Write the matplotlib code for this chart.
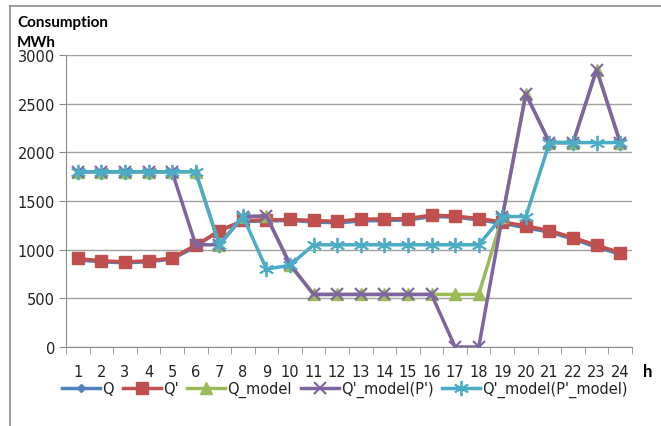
import matplotlib
matplotlib.use("Agg")
import matplotlib.pyplot as plt
from matplotlib.lines import Line2D

hours = list(range(1, 25))
Q = [895, 875, 865, 875, 905, 1030, 1200, 1290, 1295, 1300, 1285, 1275, 1295, 1300, 1305, 1340, 1335, 1305, 1270, 1225, 1180, 1110, 1025, 955]
Q_prime = [910, 885, 875, 885, 915, 1045, 1190, 1300, 1305, 1310, 1300, 1290, 1315, 1315, 1320, 1355, 1345, 1320, 1285, 1245, 1195, 1125, 1045, 970]
Q_model = [1800, 1800, 1800, 1800, 1800, 1800, 1050, 1340, 1345, 840, 540, 540, 540, 540, 540, 540, 540, 540, 1335, 2600, 2100, 2100, 2850, 2100]
Q_model_P = [1800, 1800, 1800, 1800, 1800, 1050, 1050, 1340, 1345, 850, 540, 540, 540, 540, 540, 540, 0, 0, 1335, 2600, 2100, 2100, 2850, 2100]
Q_model_Pm = [1800, 1800, 1800, 1800, 1800, 1800, 1050, 1345, 800, 840, 1050, 1050, 1050, 1050, 1050, 1050, 1050, 1050, 1340, 1340, 2100, 2100, 2100, 2100]
labels = ["Q", "Q'", "Q_model", "Q'_model(P')", "Q'_model(P'_model)"]
yticks = [0, 500, 1000, 1500, 2000, 2500, 3000]

plt.rcParams['font.family'] = ['DejaVu Sans']

fig = plt.figure(figsize=(6.61, 4.27), dpi=100)
ax = fig.add_axes([66/661, 1-348/427, (632-66)/661, (348-56)/427])

# outer frame (top and left edges only visible)
x0, y0 = 10/661, 1-7/427
fig.lines.append(Line2D([x0, 1.0], [y0, y0], transform=fig.transFigure, color='#8c8c8c', lw=1.2))
fig.lines.append(Line2D([x0, x0], [0.0, y0], transform=fig.transFigure, color='#8c8c8c', lw=1.2))

blue, red, green, purple, cyan = '#4F81BD', '#C0504D', '#9BBB59', '#8064A2', '#4BACC6'
lw = 2.5
ax.plot(hours, Q, color=blue, lw=lw, marker='D', ms=4, zorder=3)
ax.plot(hours, Q_prime, color=red, lw=lw, marker='s', ms=9, zorder=4)
ax.plot(hours, Q_model, color=green, lw=lw, marker='^', ms=9, zorder=5)
ax.plot(hours, Q_model_P, color=purple, lw=lw, marker='x', ms=9, mew=1.5, zorder=6)
ax.plot(hours, Q_model_Pm, color=cyan, lw=lw, marker=(6, 2, 0), ms=11, mew=1.3, zorder=7)

ax.set_xlim(0.5, 24.5)
ax.set_ylim(0, 3000)
ax.set_yticks(yticks)
ax.set_yticklabels([str(v) for v in yticks], fontsize=10.5, color='#222222')
ax.set_xticks(hours)
ax.set_xticklabels([str(h) for h in hours], fontsize=10.5, color='#222222')
ax.set_xticks([h - 0.5 for h in hours] + [24.5], minor=True)
ax.tick_params(axis='x', which='major', length=0, pad=12)
ax.tick_params(axis='x', which='minor', length=5, color='#8c8c8c')
ax.tick_params(axis='y', length=5, color='#8c8c8c', pad=3)
ax.grid(axis='y', color='#a0a0a0', lw=1)
ax.set_axisbelow(True)
for s in ['top', 'right']:
    ax.spines[s].set_visible(False)
for s in ['left', 'bottom']:
    ax.spines[s].set_color('#8c8c8c')

fig.text(17/661, 1-23/427, "Consumption", fontsize=11, fontweight='bold', va='center', ha='left', family='Lato')
fig.text(17/661, 1-43/427, "MWh", fontsize=11, fontweight='bold', va='center', ha='left', family='Lato')
fig.text(648/661, 1-372/427, "h", fontsize=12, fontweight='bold', va='center', ha='center', family='Lato')

handles = [
    Line2D([], [], color=blue, lw=lw, marker='D', ms=4),
    Line2D([], [], color=red, lw=lw, marker='s', ms=9),
    Line2D([], [], color=green, lw=lw, marker='^', ms=9),
    Line2D([], [], color=purple, lw=lw, marker='x', ms=9, mew=1.5),
    Line2D([], [], color=cyan, lw=lw, marker=(6, 2, 0), ms=11, mew=1.3),
]
fig.legend(handles, labels, loc='center', bbox_to_anchor=(345/661, 1-390/427), ncol=5,
           frameon=False, fontsize=10.5, handlelength=2.6, handletextpad=0.15,
           columnspacing=0.6, borderpad=0, labelcolor='#222222')

fig.savefig("out.png", dpi=100)
